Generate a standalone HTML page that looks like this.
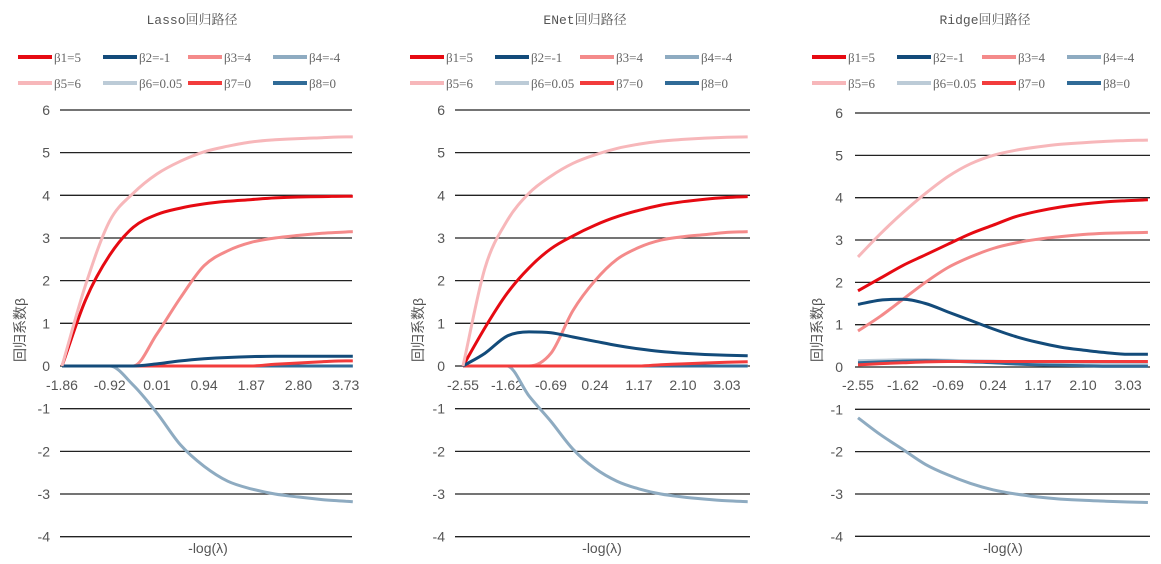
<!DOCTYPE html>
<html><head><meta charset="utf-8">
<style>
body{margin:0;background:#fff;width:1161px;height:564px;overflow:hidden}
svg{display:block}
.tk{font-family:"Liberation Sans","Noto Sans CJK SC",sans-serif;font-size:14px;fill:#555}
.lg{font-family:"Liberation Serif","Noto Serif CJK SC",serif;font-size:13px;fill:#666}
.tt{font-family:"Liberation Mono","Noto Serif CJK SC",serif;font-size:13px;fill:#555}
</style></head><body>
<svg id="c" width="1161" height="564"></svg>
<script>
const seriesNames=["β1=5","β2=-1","β3=4","β4=-4","β5=6","β6=0.05","β7=0","β8=0"];
const colors=["#e60a12","#134b7a","#f48a8a","#8eabc1","#f7b7ba","#bccbd7","#f23c3c","#306b97"];
const yTicks=[-4,-3,-2,-1,0,1,2,3,4,5,6];
const lassoX=[-1.86,-1.395,-0.92,-0.455,0.01,0.475,0.94,1.405,1.87,2.335,2.80,3.265,3.73,3.87];
const lassoTicks=["-1.86","-0.92","0.01","0.94","1.87","2.80","3.73"];
const lassoB1=[0,1.55,2.6,3.25,3.55,3.7,3.8,3.86,3.9,3.94,3.96,3.97,3.98,3.98];
const lassoB2=[0,0,0,0,0.05,0.12,0.17,0.2,0.22,0.23,0.23,0.23,0.23,0.23];
const lassoB3=[0,0,0,0,0.75,1.6,2.35,2.7,2.9,3.0,3.06,3.11,3.14,3.15];
const lassoB4=[0,0,0,-0.45,-1.1,-1.85,-2.35,-2.7,-2.88,-3.0,-3.07,-3.13,-3.17,-3.18];
const lassoB5=[0,1.9,3.4,4.05,4.5,4.8,5.02,5.15,5.25,5.3,5.33,5.35,5.37,5.37];
const lassoB6=[0,0,0,0,0,0,0,0,0,0,0,0,0,0];
const lassoB7=[0,0,0,0,0,0,0,0,0,0.04,0.07,0.1,0.12,0.12];
const lassoB8=[0,0,0,0,0,0,0,0,0,0,0,0,0,0];
const enetX=[-2.55,-2.085,-1.62,-1.155,-0.69,-0.225,0.24,0.705,1.17,1.635,2.10,2.565,3.03,3.47];
const enetTicks=["-2.55","-1.62","-0.69","0.24","1.17","2.10","3.03"];
const enetB1=[0,0.9,1.7,2.3,2.75,3.05,3.3,3.5,3.65,3.77,3.85,3.91,3.95,3.97];
const enetB2=[0,0.3,0.7,0.8,0.78,0.68,0.58,0.48,0.4,0.34,0.3,0.27,0.25,0.24];
const enetB3=[0,0,0,0,0.3,1.3,2.0,2.5,2.78,2.95,3.03,3.08,3.13,3.15];
const enetB4=[0,0,0,-0.7,-1.3,-1.95,-2.4,-2.7,-2.88,-3.0,-3.07,-3.12,-3.16,-3.18];
const enetB5=[0,2.3,3.4,4.05,4.45,4.75,4.95,5.1,5.2,5.27,5.31,5.34,5.36,5.37];
const enetB6=[0,0,0,0,0,0,0,0,0,0,0,0,0,0];
const enetB7=[0,0,0,0,0,0,0,0,0,0.03,0.05,0.07,0.09,0.1];
const enetB8=[0,0,0,0,0,0,0,0,0,0,0,0,0,0];
const ridgeX=[-2.55,-2.085,-1.62,-1.155,-0.69,-0.225,0.24,0.705,1.17,1.635,2.10,2.565,3.03,3.44];
const ridgeTicks=["-2.55","-1.62","-0.69","0.24","1.17","2.10","3.03"];
const ridgeB1=[1.8,2.1,2.4,2.65,2.9,3.15,3.35,3.55,3.68,3.78,3.85,3.9,3.93,3.95];
const ridgeB2=[1.48,1.58,1.6,1.5,1.3,1.1,0.9,0.72,0.58,0.47,0.4,0.34,0.3,0.3];
const ridgeB3=[0.85,1.2,1.6,2.0,2.35,2.6,2.8,2.93,3.02,3.08,3.13,3.16,3.17,3.18];
const ridgeB4=[-1.2,-1.6,-1.95,-2.3,-2.55,-2.75,-2.9,-3.0,-3.07,-3.12,-3.15,-3.17,-3.19,-3.2];
const ridgeB5=[2.6,3.15,3.65,4.1,4.5,4.8,5.0,5.12,5.2,5.26,5.3,5.33,5.35,5.36];
const ridgeB6=[0.15,0.16,0.17,0.17,0.16,0.15,0.14,0.12,0.1,0.09,0.08,0.07,0.07,0.07];
const ridgeB7=[0.05,0.08,0.1,0.12,0.13,0.13,0.13,0.13,0.13,0.13,0.13,0.13,0.13,0.13];
const ridgeB8=[0.1,0.12,0.14,0.15,0.14,0.12,0.1,0.07,0.05,0.04,0.03,0.02,0.02,0.02];

const NS="http://www.w3.org/2000/svg";
const svg=document.getElementById('c');
function mk(t,a,p){const e=document.createElementNS(NS,t);for(const k in a)e.setAttribute(k,a[k]);(p||svg).appendChild(e);return e;}
function smooth(pts){
 const n=pts.length,d=[],m=[];
 for(let i=0;i<n-1;i++)d.push((pts[i+1][1]-pts[i][1])/(pts[i+1][0]-pts[i][0]));
 for(let i=0;i<n;i++){
  if(i===0)m.push(d[0]);else if(i===n-1)m.push(d[n-2]);
  else m.push(d[i-1]*d[i]<=0?0:(d[i-1]+d[i])/2);
 }
 for(let i=0;i<n-1;i++){
  if(d[i]===0){m[i]=0;m[i+1]=0;continue;}
  const a=m[i]/d[i],b=m[i+1]/d[i],s=a*a+b*b;
  if(s>9){const t=3/Math.sqrt(s);m[i]=t*a*d[i];m[i+1]=t*b*d[i];}
 }
 let p='M'+pts[0][0].toFixed(1)+','+pts[0][1].toFixed(1);
 for(let i=0;i<n-1;i++){
  const h=(pts[i+1][0]-pts[i][0])/3;
  p+=` C${(pts[i][0]+h).toFixed(1)},${(pts[i][1]+m[i]*h).toFixed(1)} ${(pts[i+1][0]-h).toFixed(1)},${(pts[i+1][1]-m[i+1]*h).toFixed(1)} ${pts[i+1][0].toFixed(1)},${pts[i+1][1].toFixed(1)}`;
 }
 return p;
}

const charts=[
 {key:"lasso",title:"Lasso回归路径",x:lassoX,ticks:lassoTicks,s:[lassoB1,lassoB2,lassoB3,lassoB4,lassoB5,lassoB6,lassoB7,lassoB8],
  gx0:60,gx1:352,px0:62,ppu:50.75,y0:366,ppy:42.67,ylab:50,ytitle:20,leg:18,tc:192,xc:208},
 {key:"enet",title:"ENet回归路径",x:enetX,ticks:enetTicks,s:[enetB1,enetB2,enetB3,enetB4,enetB5,enetB6,enetB7,enetB8],
  gx0:455,gx1:750,px0:463,ppu:47.3,y0:366,ppy:42.67,ylab:445,ytitle:418,leg:410,tc:585,xc:602},
 {key:"ridge",title:"Ridge回归路径",x:ridgeX,ticks:ridgeTicks,s:[ridgeB1,ridgeB2,ridgeB3,ridgeB4,ridgeB5,ridgeB6,ridgeB7,ridgeB8],
  gx0:855,gx1:1150,px0:858,ppu:48.4,y0:367,ppy:42.33,ylab:843,ytitle:817,leg:812,tc:985,xc:1003}
];
charts.forEach(c=>{
 const g=mk('g',{});
 
 
 const X=v=>c.px0+(v-c.x[0])*c.ppu;
 const Y=v=>c.y0-v*c.ppy;
 const t=mk('text',{x:c.tc,y:24,'text-anchor':'middle',class:'tt'},g);t.textContent=c.title;
 
 
 seriesNames.forEach((n,i)=>{
  const lx=c.leg+(i%4)*85, ly=i<4?57:83;
  const le=mk('g',{},g);
  
  
  mk('line',{x1:lx,y1:ly,x2:lx+34,y2:ly,stroke:colors[i],'stroke-width':4},le);
  const tx=mk('text',{x:lx+36,y:ly+5,class:'lg'},le);tx.textContent=n;
 });
 yTicks.forEach(v=>{
  const gl=mk('line',{x1:c.gx0,x2:c.gx1,y1:Y(v),y2:Y(v),stroke:'#222','stroke-width':1.3},g);
  
  
  const tl=mk('text',{x:c.ylab,y:Y(v)+5,'text-anchor':'end',class:'tk'},g);tl.textContent=v;
  
  
 });
 c.ticks.forEach(s=>{
  const tl=mk('text',{x:X(parseFloat(s)),y:390,'text-anchor':'middle',class:'tk'},g);tl.textContent=s;
  
  
 });
 const yt=mk('text',{x:0,y:0,transform:`translate(${c.ytitle+5},330) rotate(-90)`,'text-anchor':'middle',class:'tk'},g);yt.textContent='回归系数β';
 
 
 const xt=mk('text',{x:c.xc,y:553,'text-anchor':'middle',class:'tk'},g);xt.textContent='-log(λ)';
 
 
 [5,2,0,3,7,6,1,4].forEach(i=>{
  const pts=c.s[i].map((v,j)=>[X(c.x[j]),Y(v)]);
  const p=mk('path',{d:smooth(pts),fill:'none',stroke:colors[i],'stroke-width':3,'stroke-linejoin':'round'},g);
  
  
 });
});
</script>
</body></html>
